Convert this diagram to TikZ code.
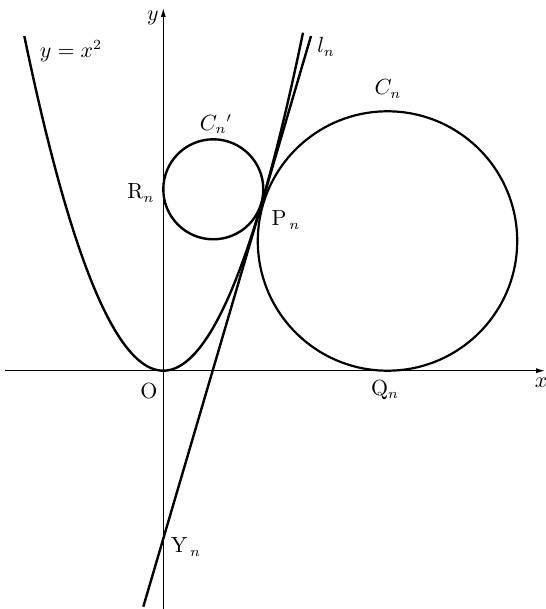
\documentclass[tikz,border=0pt]{standalone}
\usetikzlibrary{arrows.meta}
\begin{document}
\begin{tikzpicture}[x=0.5pt,y=-0.5pt,
  axis/.style={line width=0.6pt,-{Latex[length=4.5pt,width=2.6pt]}},
  curve/.style={line width=1.2pt},
  lab/.style={font=\fontsize{10.5}{12}\selectfont, inner sep=0pt}]
\useasboundingbox (0,0) rectangle (545,609);
\coordinate (O) at (163.3,370.7);
\coordinate (xs) at (5,370.7);
\coordinate (xe) at (545,370.7);
\coordinate (ys) at (163.3,609);
\coordinate (ye) at (163.3,8);
\coordinate (lb) at (143.3,606.7);
\coordinate (lt) at (311,36);
\coordinate (Cc) at (387.5,241);
\coordinate (Dc) at (213.3,189.3);
% axes
\draw[axis] (xs) -- (xe);
\draw[axis] (ys) -- (ye);
% parabola
\draw[curve] plot[domain=-13.9:13.97,samples=100] ({163.3+10*\x},{370.7-1.732*\x*\x});
% tangent line
\draw[curve] (lb) -- (lt);
% circles
\draw[line width=1.1pt] (Cc) circle[radius=129.7];
\draw[curve] (Dc) circle[radius=50];
% labels
\node[lab] (ylab) at (153,18) {$y$};
\node[lab] (xlab) at (541,383) {$x$};
\node[lab] (eq) at (71,51) {$y=x^2$};
\node[lab] (ln) at (326,47) {$l_n$};
\node[lab] (Cn) at (388,89) {$C_n$};
\node[lab] (Cnp) at (216,124) {$C_n{}'$};
\node[lab] (Rn) at (141,193) {$\mathrm{R}_n$};
\node[lab] (Pn) at (286,220) {$\mathrm{P}_{\,n}$};
\node[lab] (On) at (149,391) {$\mathrm{O}$};
\node[lab] (Qn) at (385,390) {$\mathrm{Q}_n$};
\node[lab] (Yn) at (186,547) {$\mathrm{Y}_{\,n}$};
\end{tikzpicture}
\end{document}
